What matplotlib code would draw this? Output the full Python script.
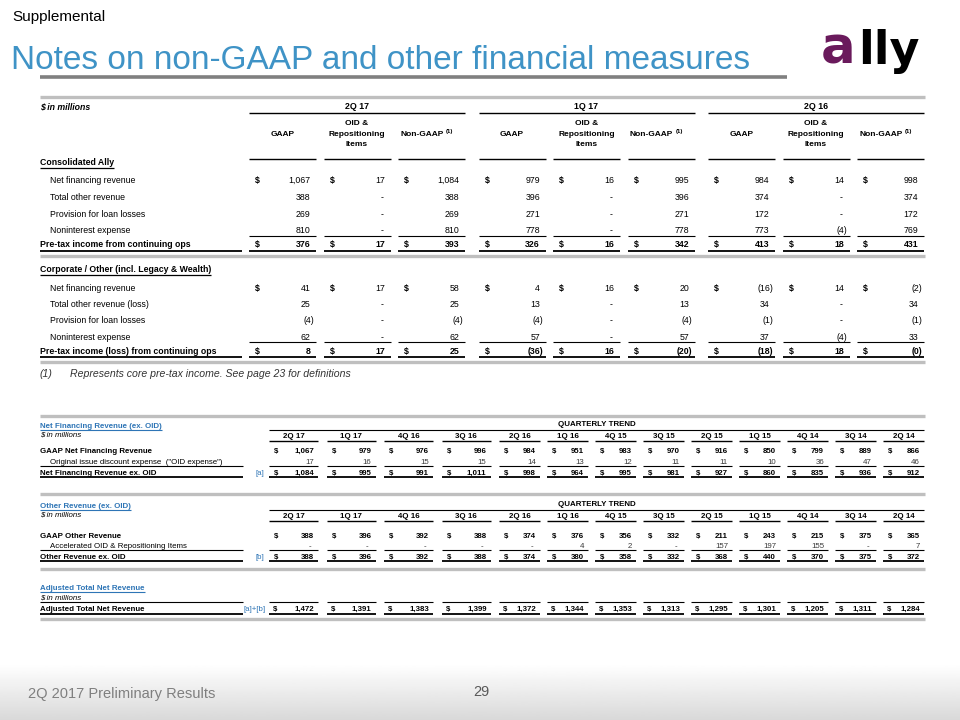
import matplotlib
matplotlib.use('Agg')
import matplotlib.pyplot as plt
import numpy as np

plt.rcParams['font.family'] = ['Liberation Sans', 'DejaVu Sans']

# ---- top table: GAAP / OID & repositioning / non-GAAP for three periods
periods = ['2Q 17', '1Q 17', '2Q 16']
ally_labels = ['Net financing revenue', 'Total other revenue',
               'Provision for loan losses', 'Noninterest expense']
corp_labels = ['Net financing revenue', 'Total other revenue (loss)',
               'Provision for loan losses', 'Noninterest expense']

ally_gaap = [[1067, 388, 269, 810], [979, 396, 271, 778], [984, 374, 172, 773]]
ally_oid = [[17, 0, 0, 0], [16, 0, 0, 0], [14, 0, 0, -4]]
ally_nongaap = [[1084, 388, 269, 810], [995, 396, 271, 778], [998, 374, 172, 769]]
ally_pretax = [[376, 17, 393], [326, 16, 342], [413, 18, 431]]

corp_gaap = [[41, 25, -4, 62], [4, 13, -4, 57], [-16, 34, -1, 37]]
corp_oid = [[17, 0, 0, 0], [16, 0, 0, 0], [14, 0, 0, -4]]
corp_nongaap = [[58, 25, -4, 62], [20, 13, -4, 57], [-2, 34, -1, 33]]
corp_pretax = [[8, 17, 25], [-36, 16, -20], [-18, 18, -0.0]]

# ---- quarterly trend tables
quarters = ['2Q 17', '1Q 17', '4Q 16', '3Q 16', '2Q 16', '1Q 16', '4Q 15',
            '3Q 15', '2Q 15', '1Q 15', '4Q 14', '3Q 14', '2Q 14']
gaap_nfr = [1067, 979, 976, 996, 984, 951, 983, 970, 916, 850, 799, 889, 866]
oid_expense = [17, 16, 15, 15, 14, 13, 12, 11, 11, 10, 36, 47, 46]
nfr_ex_oid = [1084, 995, 991, 1011, 998, 964, 995, 981, 927, 860, 835, 936, 912]
gaap_other = [388, 396, 392, 388, 374, 376, 356, 332, 211, 243, 215, 375, 365]
accel_oid = [0, 0, 0, 0, 0, 4, 2, 0, 157, 197, 155, 0, 7]
other_ex_oid = [388, 396, 392, 388, 374, 380, 358, 332, 368, 440, 370, 375, 372]
adj_total = [1472, 1391, 1383, 1399, 1372, 1344, 1353, 1313, 1295, 1301, 1205, 1311, 1284]

BLUE = '#2e75b6'
TITLE_BLUE = '#3f93c6'
BAR_GRAY = '#bfbfbf'

fig = plt.figure(figsize=(9.6, 7.2), dpi=100)
ax = fig.add_axes([0, 0, 1, 1])

# footer gradient
grad = np.linspace(1.0, 0.85, 60).reshape(-1, 1)
ax.imshow(grad, cmap='gray', vmin=0, vmax=1, extent=[0, 960, 720, 664],
          aspect='auto', zorder=0)
ax.set_xlim(0, 960)
ax.set_ylim(720, 0)
ax.axis('off')

underlines = []


def hline(x0, x1, y, lw=0.75, color='black'):
    ax.plot([x0, x1], [y, y], color=color, lw=lw, solid_capstyle='butt')


def txt(x, y, s, size, ha='left', bold=False, italic=False, color='black', **kw):
    # y is the middle of the capital letters; place on the baseline
    return ax.text(x, y + 0.5 * size, s, ha=ha, va='baseline', fontsize=size,
                   color=color, fontweight='bold' if bold else 'normal',
                   fontstyle='italic' if italic else 'normal', **kw)


def fmt(v):
    if v == 0 and not np.signbit(v):
        return '-'
    if np.signbit(v):
        return '({:,.0f})'.format(abs(v))
    return '{:,.0f}'.format(v)


def val(xr, y, v, size, bold=False, color='black', paren=3.5, dash=2):
    s = fmt(v)
    x = xr
    if s == '-':
        x = xr - dash
    elif s.startswith('('):
        x = xr + paren
    txt(x, y, s, size, ha='right', bold=bold, color=color)


# ---- header
txt(12, 16, 'Supplemental', 11)
txt(11, 57, 'Notes on non-GAAP and other financial measures', 24, color=TITLE_BLUE)
hline(40, 787, 77, lw=2.6, color='#808080')
ax.text(821, 64, 'a', fontsize=37, fontweight='bold', color='#6a1a5c',
        family='DejaVu Sans', va='baseline')
ax.text(858, 64, 'lly', fontsize=33, fontweight='bold', color='black',
        family='DejaVu Sans', va='baseline')

# ---- top table
FS = 6.3
FH = 6.0
group_left = [249, 478.5, 708]
sub_off = [0, 74.5, 149]
CW = 67

hline(40, 925, 97, lw=2.4, color=BAR_GRAY)
txt(40, 106, '$ in millions', 6.3, bold=True, italic=True)
for g, p in enumerate(periods):
    gl = group_left[g]
    txt(gl + (sub_off[2] + CW) / 2, 106, p, 6.4, ha='center', bold=True)
    hline(gl, gl + sub_off[2] + CW, 113, lw=1.0)
    c0, c1, c2 = [gl + o for o in sub_off]
    txt(c0 + CW / 2, 132.5, 'GAAP', FH, ha='center', bold=True)
    txt(c1 + CW / 2, 122, 'OID &', FH, ha='center', bold=True)
    txt(c1 + CW / 2, 132.5, 'Repositioning', FH, ha='center', bold=True)
    txt(c1 + CW / 2, 143, 'Items', FH, ha='center', bold=True)
    txt(c2 + 45.5, 132.5, 'Non-GAAP', FH, ha='right', bold=True)
    txt(c2 + 48, 130.5, '(1)', 4.3, bold=True)
    for c in (c0, c1, c2):
        hline(c, c + CW, 159, lw=1.0)


def top_section(y_head, head, labels, gaap, oid, nong, pretax, total_label, ys, y_line, y_tot, y_ul, y_bar):
    t = txt(40, y_head, head, FS, bold=True)
    underlines.append((t, y_head + 5.5, 'black', 0.9))
    for i, lab in enumerate(labels):
        txt(50, ys[i], lab, FS)
    txt(40, y_tot, total_label, FS, bold=True)
    hline(40, 242, y_ul, lw=1.3)
    for g in range(3):
        cols = [group_left[g] + o for o in sub_off]
        series = [gaap[g], oid[g], nong[g]]
        for k, c in enumerate(cols):
            for i in range(4):
                val(c + CW - 5.5, ys[i], series[k][i], FS)
            txt(c + 6, ys[0], '$', FS, bold=True)
            hline(c, c + CW, y_line, lw=0.8)
            txt(c + 6, y_tot, '$', FS, bold=True)
            val(c + CW - 5.5, y_tot, pretax[g][k], FS, bold=True)
            hline(c, c + CW, y_ul, lw=1.3)
    hline(40, 925, y_bar, lw=2.4, color=BAR_GRAY)


top_section(162, 'Consolidated Ally', ally_labels, ally_gaap, ally_oid, ally_nongaap,
            ally_pretax, 'Pre-tax income from continuing ops',
            [180, 197, 213.5, 230], 235.5, 244, 250.5, 255.5)
top_section(269, 'Corporate / Other (incl. Legacy & Wealth)', corp_labels, corp_gaap,
            corp_oid, corp_nongaap, corp_pretax,
            'Pre-tax income (loss) from continuing ops',
            [287.5, 304, 320, 336.5], 341.5, 350.5, 356.5, 362)
txt(40, 373, '(1)', 7.6, italic=True, color='#333333')
txt(70, 373, 'Represents core pre-tax income. See page 23 for definitions', 7.6,
    italic=True, color='#333333')

# ---- quarterly trend tables
FQ = 5.7
q_left = [269 + 57.5 * i for i in range(4)] + [499 + 48 * i for i in range(9)]
q_w = [49] * 4 + [41] * 9


def q_header(y_title, y_trend, y_head, title):
    t = txt(40, y_title, title, FQ, bold=True, color=BLUE)
    underlines.append((t, y_title + 4.5, BLUE, 0.8))
    txt(597, y_trend - 0.5, 'QUARTERLY TREND', FQ, ha='center', bold=True)
    hline(269, 924, y_trend + 5.5, lw=0.8)
    txt(40, y_head - 1, '$ in millions', FQ, italic=True)
    for q, l, w in zip(quarters, q_left, q_w):
        txt(l + w / 2, y_head, q, FQ, ha='center', bold=True)
        hline(l, l + w, y_head + 5.5, lw=1.0)


def q_rows(ys, labels, rows, tag, y_thin, y_thick):
    bolds = [True, False, True]
    colors = ['black', '#3a3a3a', 'black']
    indents = [40, 50, 40]
    for i in range(3):
        txt(indents[i], ys[i], labels[i], FQ, bold=bolds[i])
        for k, (l, w) in enumerate(zip(q_left, q_w)):
            val(l + w - 4, ys[i], rows[i][k], FQ, bold=bolds[i], color=colors[i], dash=3)
            if i != 1:
                txt(l + 5, ys[i], '$', FQ, bold=True)
    txt(255, ys[2], tag, FQ, color=BLUE)
    hline(40, 243, y_thin, lw=0.8)
    hline(40, 243, y_thick, lw=1.3)
    for l, w in zip(q_left, q_w):
        hline(l, l + w, y_thin, lw=0.8)
        hline(l, l + w, y_thick, lw=1.3)


hline(40, 925, 415.5, lw=2.4, color=BAR_GRAY)
q_header(425, 424, 435, 'Net Financing Revenue (ex. OID)')
q_rows([450, 461, 472],
       ['GAAP Net Financing Revenue',
        'Original issue discount expense  ("OID expense")',
        'Net Financing Revenue ex. OID'],
       [gaap_nfr, oid_expense, nfr_ex_oid], '[a]', 465.5, 477)
hline(40, 925, 494, lw=2.4, color=BAR_GRAY)

q_header(505, 504, 515, 'Other Revenue (ex. OID)')
q_rows([535, 545.5, 556],
       ['GAAP Other Revenue',
        'Accelerated OID & Repositioning Items',
        'Other Revenue ex. OID'],
       [gaap_other, accel_oid, other_ex_oid], '[b]', 550, 561)
hline(40, 925, 568.5, lw=2.4, color=BAR_GRAY)

t = txt(40, 587, 'Adjusted Total Net Revenue', FQ, bold=True, color=BLUE)
underlines.append((t, 591.5, BLUE, 0.8))
txt(40, 597, '$ in millions', FQ, italic=True)
txt(40, 608, 'Adjusted Total Net Revenue', FQ, bold=True)
txt(243, 608, '[a]+[b]', FQ, color=BLUE)
hline(40, 243, 602, lw=0.8)
hline(40, 243, 613.5, lw=1.3)
for l, w, v in zip(q_left, q_w, adj_total):
    txt(l + 4, 608, '$', FQ, bold=True)
    val(l + w - 4, 608, v, FQ, bold=True)
    hline(l, l + w, 602, lw=0.8)
    hline(l, l + w, 613.5, lw=1.3)
hline(40, 925, 619, lw=2.4, color=BAR_GRAY)

# ---- footer
txt(28, 693, '2Q 2017 Preliminary Results', 10.5, color='#7f7f7f')
txt(481, 691, '29', 10.5, ha='center', color='#595959')

# underline titles now that text extents are known
fig.canvas.draw()
renderer = fig.canvas.get_renderer()
inv = ax.transData.inverted()
for t, y, col, lw in underlines:
    bb = t.get_window_extent(renderer)
    (x0, _), (x1, _) = inv.transform([[bb.x0, bb.y0], [bb.x1, bb.y0]])
    hline(x0, x1, y, lw=lw, color=col)

fig.savefig('out.png', dpi=100)
